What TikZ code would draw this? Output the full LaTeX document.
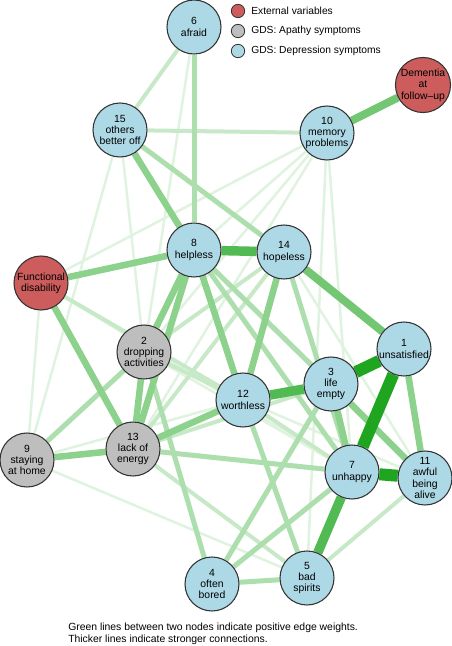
\documentclass[tikz,border=0pt]{standalone}
\usepackage{fontspec}
\setmainfont{Liberation Sans}
\usepackage{tikz}
\usetikzlibrary{backgrounds}
\definecolor{EdgeGreen}{HTML}{009900}
\definecolor{DeprBlue}{HTML}{ADD8E6}
\definecolor{ApathyGray}{HTML}{BEBEBE}
\definecolor{ExtRed}{HTML}{CD5C5C}
\definecolor{RimGray}{HTML}{333333}

\tikzset{
  symptom/.style={circle, draw=RimGray, line width=0.8pt, minimum size=40.5pt,
    inner sep=0pt, align=center, font=\fontsize{7.8}{8.5}\selectfont},
  depr/.style={symptom, fill=DeprBlue},
  apathy/.style={symptom, fill=ApathyGray},
  extvar/.style={symptom, fill=ExtRed},
  keydot/.style={circle, draw=RimGray, line width=0.6pt, minimum size=10pt, inner sep=0pt},
  keytext/.style={anchor=west, inner sep=0pt, font=\fontsize{7.7}{8.5}\selectfont},
  e1/.style={draw=EdgeGreen!12, line width=1.9pt},
  e2/.style={draw=EdgeGreen!22, line width=3pt},
  e3/.style={draw=EdgeGreen!32, line width=3.75pt},
  e4/.style={draw=EdgeGreen!45, line width=4.9pt},
  e5/.style={draw=EdgeGreen!55, line width=6pt},
  e6/.style={draw=EdgeGreen!68, line width=7.1pt},
  e7/.style={draw=EdgeGreen!88, line width=9pt}
}

\begin{document}
\begin{tikzpicture}[x=0.75pt, y=-0.75pt]
    \useasboundingbox (0,0) rectangle (452,646);

    % GDS items and external variables
    \node[depr] (g6) at (194,27) {6\\afraid};
    \node[extvar] (dem) at (423,85) {Dementia\\at\\follow--up};
    \node[depr] (g15) at (120,130) {15\\others\\better off};
    \node[depr] (g10) at (327,133) {10\\memory\\problems};
    \node[depr] (g8) at (194,250) {8\\helpless};
    \node[depr] (g14) at (284,252) {14\\hopeless};
    \node[extvar] (fdis) at (41,283) {Functional\\disability};
    \node[apathy] (g2) at (144,352) {2\\dropping\\activities};
    \node[depr] (g1) at (404,349) {1\\unsatisfied};
    \node[depr] (g3) at (331,384) {3\\life\\empty};
    \node[depr] (g12) at (243,400) {12\\worthless};
    \node[apathy] (g9) at (27,460) {9\\staying\\at home};
    \node[apathy] (g13) at (133,449) {13\\lack of\\energy};
    \node[depr] (g7) at (352,472) {7\\unhappy};
    \node[depr] (g11) at (425,478) {11\\awful\\being\\alive};
    \node[depr] (g4) at (212,584) {4\\often\\bored};
    \node[depr] (g5) at (307,578) {5\\bad\\spirits};

    % edges, weakest first
    \begin{pgfonlayer}{background}
      \foreach \a/\b in {g6/g2, g15/g9, g15/g2, g10/g8, g10/g2, g10/g13, g10/fdis,
          g10/g7, g10/g5, fdis/g9, fdis/g7, g14/g11, g12/g11, g9/g12, g9/g5, g2/g7}
        \draw[e1] (\a) -- (\b);
      \foreach \a/\b in {g6/g15, g15/g10, g2/g12, g2/g14, g13/g5, g11/g5,
          fdis/g12, g12/g7, g13/g14, g8/g11, g13/g3}
        \draw[e2] (\a) -- (\b);
      \foreach \a/\b in {g6/g8, g15/g14, g8/g3, g8/g7, g4/g3, g4/g7, g2/g4,
          g12/g5, g9/g2, g13/g7, g4/g5, g14/g7}
        \draw[e3] (\a) -- (\b);
      \foreach \a/\b in {fdis/g8, g15/g8, fdis/g13, g8/g12, g14/g12, g2/g13, g9/g13,
          g13/g12, g8/g2, g3/g7, g3/g11, g1/g11, g8/g13}
        \draw[e4] (\a) -- (\b);
      \foreach \a/\b in {g14/g1, dem/g10}
        \draw[e5] (\a) -- (\b);
      \foreach \a/\b in {g8/g14, g12/g3, g7/g5}
        \draw[e6] (\a) -- (\b);
      \foreach \a/\b in {g1/g7, g3/g1, g7/g11}
        \draw[e7] (\a) -- (\b);
    \end{pgfonlayer}

    % legend
    \node[keydot, fill=ExtRed] (kext) at (238,11) {};
    \node[keydot, fill=ApathyGray] (kapa) at (238,31) {};
    \node[keydot, fill=DeprBlue] (kdep) at (238,51) {};
    \node[keytext] at (251,11) {External variables};
    \node[keytext] at (251,31) {GDS: Apathy symptoms};
    \node[keytext] at (251,51) {GDS: Depression symptoms};

    % note below the graph
    \node[keytext, align=left, font=\fontsize{7.8}{8.8}\selectfont] (note) at (68,633.5)
      {Green lines between two nodes indicate positive edge weights.\\Thicker lines indicate stronger connections.};
  \end{tikzpicture}
\end{document}
